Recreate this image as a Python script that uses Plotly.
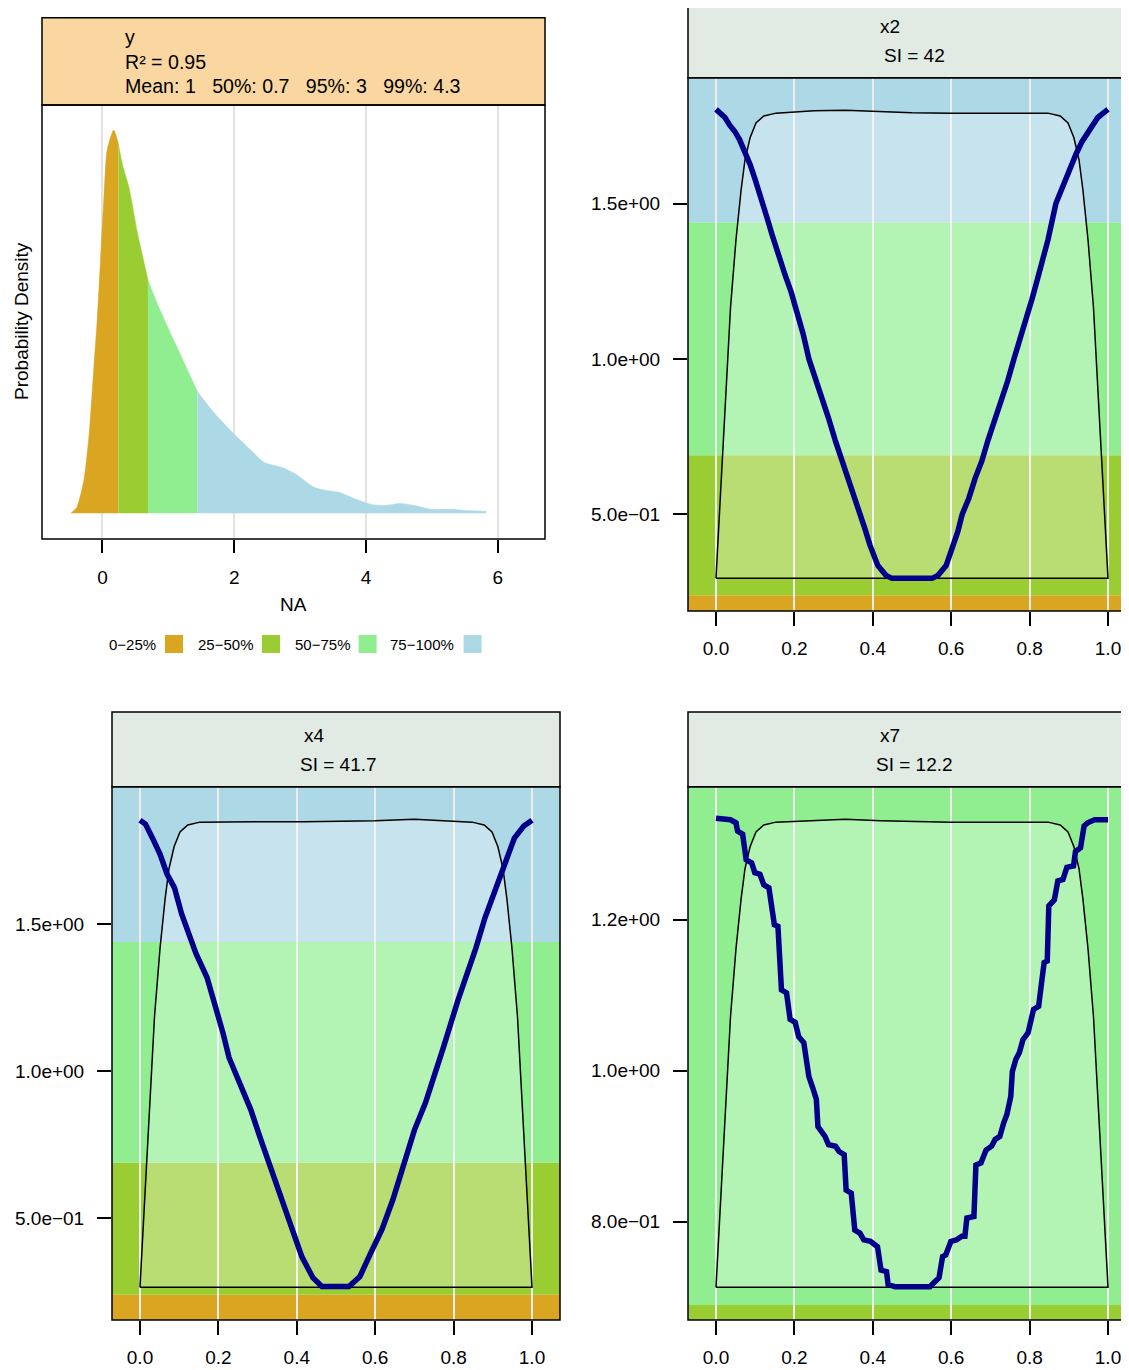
import numpy as np
import plotly.graph_objects as go

VIEW_W, VIEW_H = 1129, 1370
OFF = 8                                   # page body margin of the html page
W, H = VIEW_W - OFF, VIEW_H - OFF
FONT = "Liberation Sans, Arial, Helvetica, sans-serif"

# ---------------- data ----------------
Q_LABELS = ["0−25%", "25−50%", "50−75%", "75−100%"]
Q_COLORS = ["#DAA520", "#9ACD32", "#90EE90", "#ADD8E6"]
Y_QUANTILES = [0.24, 0.69, 1.44]          # 25 %, 50 %, 75 % quantiles of y

# density of the output y
DENS_X = [-0.48, -0.39, -0.28, -0.20, -0.13, -0.08, 0.02, 0.07, 0.17, 0.24,
          0.30, 0.40, 0.53, 0.69, 0.83, 1.10, 1.44, 1.69, 1.97, 2.24,
          2.45, 2.73, 2.94, 3.21, 3.38, 3.59, 3.86, 4.08, 4.30, 4.51,
          4.73, 5.00, 5.27, 5.49, 5.82]
DENS_Y = [0.0, 0.012, 0.069, 0.165, 0.299, 0.394, 0.638, 0.739, 0.780, 0.753,
          0.711, 0.664, 0.571, 0.475, 0.427, 0.347, 0.248, 0.205, 0.165, 0.130,
          0.104, 0.093, 0.079, 0.053, 0.047, 0.043, 0.028, 0.018, 0.016, 0.020,
          0.016, 0.008, 0.008, 0.006, 0.004]
DENS_TICKS = [0, 2, 4, 6]
HEADER_LINES = ["y", "R² = 0.95", "Mean: 1   50%: 0.7   95%: 3   99%: 4.3"]

# input names and sensitivity indices
INPUTS = ["x2", "x4", "x7"]
SI_TEXT = ["SI = 42", "SI = 41.7", "SI = 12.2"]
X_TICKS = [0.0, 0.2, 0.4, 0.6, 0.8, 1.0]

# density of the inputs (same uniform-like shape), x grid shared
XD_X = [0, 0.018, 0.037, 0.051, 0.064, 0.074, 0.087, 0.102, 0.122, 0.153,
        0.25, 0.33, 0.42, 0.50, 0.60, 0.70, 0.78,
        0.847, 0.878, 0.898, 0.913, 0.926, 0.936, 0.949, 0.963, 0.982, 1.0]
X2_D = [0, 0.297, 0.58, 0.726, 0.833, 0.898, 0.945, 0.977, 0.992, 0.998,
        1.003, 1.004, 1.001, 0.999, 0.998, 0.998, 0.998,
        0.998, 0.992, 0.977, 0.945, 0.898, 0.833, 0.726, 0.58, 0.297, 0]
X4_D = [0, 0.297, 0.58, 0.726, 0.833, 0.898, 0.945, 0.977, 0.992, 0.998,
        0.999, 0.999, 0.999, 1.0, 1.001, 1.004, 1.001,
        0.998, 0.992, 0.977, 0.945, 0.898, 0.833, 0.726, 0.58, 0.297, 0]
X7_D = [0, 0.297, 0.58, 0.726, 0.833, 0.898, 0.945, 0.977, 0.992, 0.998,
        1.002, 1.004, 1.001, 0.999, 0.998, 0.998, 0.998,
        0.998, 0.992, 0.977, 0.945, 0.898, 0.833, 0.726, 0.58, 0.297, 0]

# conditional output (blue curves)
X2_X = [0, 0.012, 0.023, 0.035, 0.048, 0.060, 0.074, 0.087, 0.100, 0.117,
        0.130, 0.143, 0.160, 0.176, 0.192, 0.207, 0.222, 0.237, 0.254, 0.270,
        0.287, 0.304, 0.320, 0.337, 0.352, 0.367, 0.380, 0.393, 0.413, 0.434,
        0.449, 0.551, 0.566, 0.587, 0.605, 0.617, 0.628, 0.645, 0.661, 0.678,
        0.694, 0.711, 0.727, 0.744, 0.760, 0.776, 0.791, 0.806, 0.821, 0.834,
        0.847, 0.867, 0.880, 0.893, 0.906, 0.918, 0.934, 0.949, 0.962, 0.974,
        0.987, 1.0]
X2_Y = [1.803, 1.786, 1.777, 1.752, 1.732, 1.706, 1.668, 1.626, 1.577, 1.500,
        1.455, 1.400, 1.330, 1.271, 1.214, 1.152, 1.082, 1.000, 0.938, 0.868,
        0.810, 0.739, 0.681, 0.616, 0.564, 0.500, 0.453, 0.400, 0.335, 0.303,
        0.294, 0.294, 0.303, 0.335, 0.400, 0.445, 0.500, 0.552, 0.616, 0.671,
        0.739, 0.800, 0.868, 0.929, 1.000, 1.062, 1.132, 1.192, 1.261, 1.318,
        1.384, 1.500, 1.540, 1.584, 1.626, 1.658, 1.700, 1.732, 1.757, 1.777,
        1.790, 1.803]

X4_X = [0, 0.014, 0.032, 0.051, 0.069, 0.088, 0.106, 0.125, 0.143, 0.171,
        0.189, 0.212, 0.227, 0.255, 0.283, 0.306, 0.329, 0.357, 0.385, 0.413,
        0.441, 0.464, 0.533, 0.561, 0.589, 0.617, 0.645, 0.673, 0.700, 0.728,
        0.751, 0.774, 0.811, 0.839, 0.857, 0.880, 0.908, 0.931, 0.955, 0.979,
        1.0]
X4_Y = [1.854, 1.841, 1.793, 1.739, 1.671, 1.624, 1.536, 1.468, 1.400, 1.319,
        1.241, 1.129, 1.047, 0.959, 0.868, 0.776, 0.688, 0.586, 0.485, 0.369,
        0.298, 0.268, 0.268, 0.302, 0.383, 0.461, 0.563, 0.688, 0.800, 0.892,
        0.980, 1.081, 1.241, 1.342, 1.420, 1.522, 1.624, 1.715, 1.793, 1.834,
        1.854]

X7_X = [0, 0.037, 0.051, 0.055, 0.068, 0.073, 0.077, 0.091, 0.099, 0.112,
        0.122, 0.135, 0.144, 0.149, 0.158, 0.162, 0.167, 0.180, 0.189, 0.202,
        0.211, 0.224, 0.237, 0.247, 0.256, 0.260, 0.278, 0.287, 0.305, 0.314,
        0.327, 0.332, 0.345, 0.354, 0.367, 0.377, 0.394, 0.412, 0.421, 0.435,
        0.439, 0.457, 0.546, 0.555, 0.569, 0.578, 0.586, 0.599, 0.613, 0.627,
        0.635, 0.640, 0.658, 0.663, 0.676, 0.689, 0.703, 0.712, 0.724, 0.734,
        0.742, 0.752, 0.756, 0.765, 0.774, 0.783, 0.796, 0.810, 0.823, 0.837,
        0.845, 0.849, 0.863, 0.872, 0.885, 0.895, 0.912, 0.917, 0.930, 0.939,
        0.948, 0.966, 1.0]
X7_Y = [1.334, 1.332, 1.328, 1.317, 1.313, 1.297, 1.279, 1.275, 1.262, 1.260,
        1.246, 1.242, 1.204, 1.193, 1.191, 1.160, 1.107, 1.103, 1.068, 1.064,
        1.045, 1.037, 0.992, 0.977, 0.962, 0.926, 0.913, 0.902, 0.900, 0.893,
        0.889, 0.842, 0.838, 0.789, 0.785, 0.776, 0.774, 0.767, 0.736, 0.734,
        0.717, 0.714, 0.714, 0.719, 0.726, 0.754, 0.756, 0.774, 0.776, 0.781,
        0.781, 0.805, 0.807, 0.875, 0.878, 0.895, 0.900, 0.909, 0.913, 0.931,
        0.942, 0.966, 0.999, 1.015, 1.024, 1.041, 1.050, 1.081, 1.085, 1.143,
        1.145, 1.218, 1.226, 1.251, 1.253, 1.269, 1.271, 1.290, 1.295, 1.324,
        1.328, 1.332, 1.332]

Y_TICKVALS = [[0.5, 1.0, 1.5], [0.5, 1.0, 1.5], [0.8, 1.0, 1.2]]
Y_TICKTEXT = [["5.0e−01", "1.0e+00", "1.5e+00"],
              ["5.0e−01", "1.0e+00", "1.5e+00"],
              ["8.0e−01", "1.0e+00", "1.2e+00"]]
Y_RANGES = [[0.189, 1.905], [0.154, 1.968], [0.670, 1.3758]]
DENS_RANGE = [-0.070, 1.074]
X_LIM = [-0.0714, 1.0714]

PANEL_X = [X2_X, X4_X, X7_X]
PANEL_Y = [X2_Y, X4_Y, X7_Y]
PANEL_D = [X2_D, X4_D, X7_D]


# ---------------- layout geometry (screen pixels) ----------------
def fx(p):
    return (p - OFF) / W


def fy(p):
    return 1 - (p - OFF) / H


P1 = dict(l=42, r=545, t=105, b=539, ht=17.7)
PANELS = [dict(l=688, r=1136, t=77.7, b=611, ht=3),
          dict(l=112, r=560, t=786.7, b=1320, ht=712),
          dict(l=688, r=1136, t=786.7, b=1320, ht=712)]

fig = go.Figure()
shapes = []
annotations = []
tickfont = dict(family=FONT, size=19, color="black")
axis_common = dict(ticks="outside", tickcolor="black", tickwidth=1.5,
                   showline=False, zeroline=False, tickfont=tickfont)

# ---------------- panel 1: density of y ----------------
dx = np.array(DENS_X)
dy = np.array(DENS_Y)
lo = [-np.inf] + Y_QUANTILES
hi = Y_QUANTILES + [np.inf]
for i in range(4):
    m = (dx >= lo[i]) & (dx <= hi[i])
    fig.add_trace(go.Scatter(x=dx[m], y=dy[m], mode="lines", fill="tozeroy",
                             fillcolor=Q_COLORS[i],
                             line=dict(color=Q_COLORS[i], width=0.5, shape="spline",
                                       smoothing=0.6),
                             xaxis="x", yaxis="y", hoverinfo="skip",
                             showlegend=False))

layout_axes = dict(
    xaxis=dict(domain=[fx(P1["l"]), fx(P1["r"])], range=[-0.918, 6.715],
               anchor="y", tickvals=DENS_TICKS, ticklen=13,
               ticklabelstandoff=8,
               showgrid=True, gridcolor="#E3E3E3", gridwidth=1.5,
               **axis_common),
    yaxis=dict(domain=[fy(P1["b"]), fy(P1["t"])], range=[-0.0523, 0.8309],
               anchor="x", visible=False),
)

# header of panel 1
shapes.append(dict(type="rect", xref="paper", yref="paper",
                   x0=fx(P1["l"]), x1=fx(P1["r"]), y0=fy(P1["t"]), y1=fy(P1["ht"]),
                   fillcolor="#FAD7A0", line=dict(color="black", width=1.5),
                   layer="above"))
shapes.append(dict(type="rect", xref="paper", yref="paper",
                   x0=fx(P1["l"]), x1=fx(P1["r"]), y0=fy(P1["b"]), y1=fy(P1["t"]),
                   line=dict(color="black", width=1.5), layer="above"))
for txt, yy in zip(HEADER_LINES, [37, 61.5, 86]):
    annotations.append(dict(text=txt, xref="paper", yref="paper", x=fx(123), y=fy(yy),
                            xanchor="left", yanchor="middle", showarrow=False,
                            font=dict(family=FONT, size=19.6, color="black")))
annotations.append(dict(text="NA", xref="paper", yref="paper", x=fx(293), y=fy(604),
                        xanchor="center", yanchor="middle", showarrow=False,
                        font=dict(family=FONT, size=19, color="black")))
annotations.append(dict(text="Probability Density", xref="paper", yref="paper",
                        x=fx(21), y=fy(321), textangle=-90, xanchor="center",
                        yanchor="middle", showarrow=False,
                        font=dict(family=FONT, size=19, color="black")))

# legend
LEG_TEXT_RIGHT = [158, 255, 352, 456]
LEG_BOX_LEFT = [165, 262, 358.6, 463.6]
for lab, col, tr, bl in zip(Q_LABELS, Q_COLORS, LEG_TEXT_RIGHT, LEG_BOX_LEFT):
    annotations.append(dict(text=lab, xref="paper", yref="paper", x=fx(tr), y=fy(644),
                            xanchor="right", yanchor="middle", showarrow=False,
                            font=dict(family=FONT, size=15, color="black")))
    shapes.append(dict(type="rect", xref="paper", yref="paper",
                       x0=fx(bl), x1=fx(bl + 18), y0=fy(653), y1=fy(635),
                       fillcolor=col, line=dict(width=0), layer="above"))

# ---------------- panels 2-4: conditional curves ----------------
for k, (name, si) in enumerate(zip(INPUTS, SI_TEXT)):
    g = PANELS[k]
    xa = f"x{k + 2}"
    yd = f"y{k + 2}"          # hidden axis for the input density
    yv = f"y{k + 5}"          # visible value axis
    dom_r = min(g["r"], VIEW_W)
    xr1 = X_LIM[0] + (dom_r - g["l"]) / (g["r"] - g["l"]) * (X_LIM[1] - X_LIM[0])
    xrange = [X_LIM[0], xr1]
    yr = Y_RANGES[k]

    layout_axes[f"xaxis{k + 2}"] = dict(
        domain=[fx(g["l"]), min(1.0, fx(dom_r))], range=xrange, anchor=yd,
        tickvals=X_TICKS, ticktext=[f"{v:.1f}" for v in X_TICKS], ticklen=14,
        ticklabelstandoff=6,
        showgrid=True, gridcolor="#EDEDED", gridwidth=1.5, **axis_common)
    layout_axes[f"yaxis{k + 2}"] = dict(
        domain=[fy(g["b"]), fy(g["t"])], range=DENS_RANGE, anchor=xa,
        visible=False, showgrid=False)
    layout_axes[f"yaxis{k + 5}"] = dict(
        overlaying=yd, anchor=xa, side="left", range=yr,
        tickvals=Y_TICKVALS[k], ticktext=Y_TICKTEXT[k], ticklen=14,
        ticklabelstandoff=9, showgrid=False, **axis_common)

    # quantile bands of y
    bounds = [yr[0]] + Y_QUANTILES + [yr[1]]
    for i in range(4):
        b0 = max(bounds[i], yr[0])
        b1 = min(bounds[i + 1], yr[1])
        if b1 <= b0:
            continue
        shapes.append(dict(type="rect", xref=xa, yref=yv,
                           x0=xrange[0], x1=xrange[1], y0=b0, y1=b1,
                           fillcolor=Q_COLORS[i], line=dict(width=0),
                           layer="below"))

    # density of the input (closed polygon with translucent white fill)
    fig.add_trace(go.Scatter(x=XD_X + [XD_X[0]], y=PANEL_D[k] + [PANEL_D[k][0]],
                             mode="lines", fill="toself",
                             fillcolor="rgba(255,255,255,0.32)",
                             line=dict(color="black", width=1.5),
                             xaxis=xa, yaxis=yd, hoverinfo="skip",
                             showlegend=False))
    # conditional output curve
    fig.add_trace(go.Scatter(x=PANEL_X[k], y=PANEL_Y[k], mode="lines",
                             line=dict(color="#00008B", width=5.5),
                             xaxis=xa, yaxis=yv, hoverinfo="skip",
                             showlegend=False))

    # header and frame
    shapes.append(dict(type="rect", xref="paper", yref="paper",
                       x0=fx(g["l"]), x1=fx(g["r"]), y0=fy(g["t"]), y1=fy(g["ht"]),
                       fillcolor="#E1EAE3", line=dict(color="black", width=1.5),
                       layer="above"))
    shapes.append(dict(type="rect", xref="paper", yref="paper",
                       x0=fx(g["l"]), x1=fx(g["r"]), y0=fy(g["b"]), y1=fy(g["t"]),
                       line=dict(color="black", width=1.5), layer="above"))
    hdr_h = g["t"] - g["ht"]
    cx = (g["l"] + g["r"]) / 2
    annotations.append(dict(text=name, xref="paper", yref="paper",
                            x=fx(cx - 34), y=fy(g["ht"] + hdr_h * 0.32),
                            xanchor="left", yanchor="middle", showarrow=False,
                            font=dict(family=FONT, size=19, color="black")))
    annotations.append(dict(text=si, xref="paper", yref="paper",
                            x=fx(cx + 2), y=fy(g["ht"] + hdr_h * 0.70),
                            xanchor="center", yanchor="middle", showarrow=False,
                            font=dict(family=FONT, size=19, color="black")))

fig.update_layout(
    width=W, height=H, autosize=False,
    margin=dict(l=0, r=0, t=0, b=0),
    paper_bgcolor="white", plot_bgcolor="rgba(0,0,0,0)",
    showlegend=False, shapes=shapes, annotations=annotations,
    font=dict(family=FONT, size=19, color="black"),
    **layout_axes,
)

fig.write_html("out.html")
